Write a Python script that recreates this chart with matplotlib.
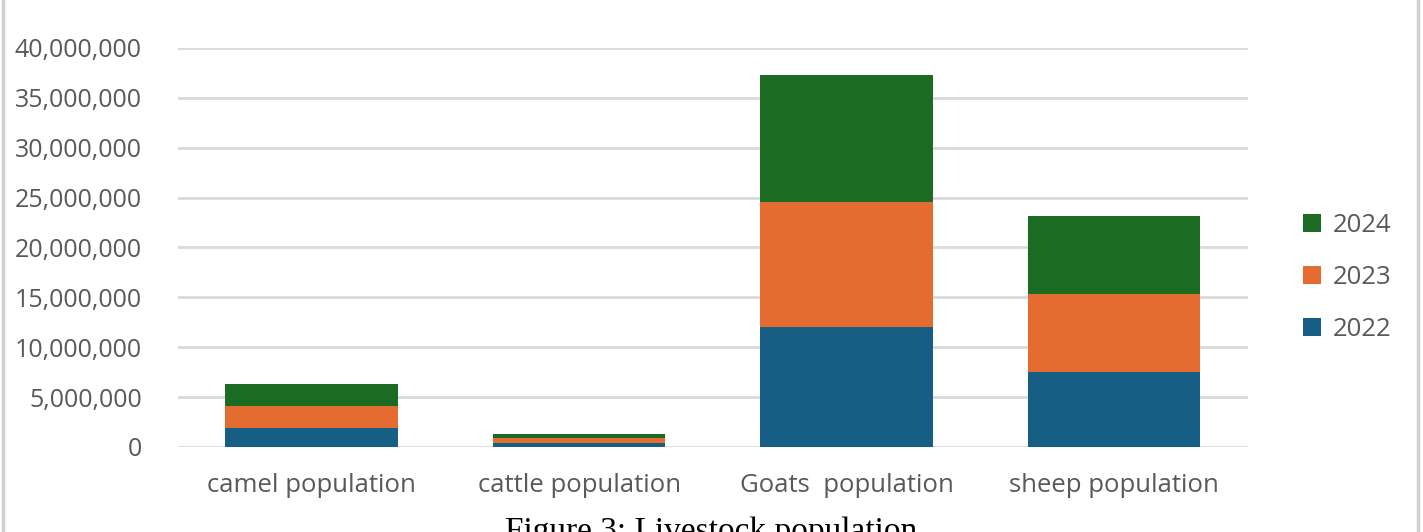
import numpy as np
import matplotlib.pyplot as plt
from matplotlib.lines import Line2D
from matplotlib.ticker import FuncFormatter

categories = ["camel population", "cattle population", "Goats  population", "sheep population"]
years = ["2022", "2023", "2024"]
pop_2022 = [1930000, 420000, 12000000, 7500000]
pop_2023 = [2170000, 500000, 12500000, 7800000]
pop_2024 = [2200000, 350000, 12800000, 7800000]
colors = ["#175e84", "#e46c31", "#1c6b22"]

plt.rcParams['font.family'] = ['Open Sans', 'DejaVu Sans']

fig = plt.figure(figsize=(14.23, 5.32), dpi=100)
ax = fig.add_axes([0.125, 0.16, 0.752, 0.75])

x = np.arange(len(categories))
bottom = np.zeros(len(categories))
bars = []
for vals, col, yr in zip([pop_2022, pop_2023, pop_2024], colors, years):
    b = ax.bar(x, vals, width=0.645, bottom=bottom, color=col, label=yr, zorder=3)
    bars.append(b)
    bottom += np.array(vals)

ax.set_xlim(-0.5, 3.5)
ax.set_ylim(0, 40000000)
ax.set_yticks(np.arange(0, 40000001, 5000000))
ax.yaxis.set_major_formatter(FuncFormatter(lambda v, p: f"{int(v):,}"))
ax.grid(axis='y', color='#d9d9d9', linewidth=2, zorder=0)
ax.set_xticks(x)
ax.set_xticklabels(categories, fontsize=18.5)
for s in ax.spines.values():
    s.set_visible(False)
ax.tick_params(axis='both', length=0, labelcolor='#595959')
ax.tick_params(axis='y', labelsize=18, pad=26)
ax.tick_params(axis='x', pad=19)

leg = ax.legend(handles=bars[::-1], labels=years[::-1], loc='center left',
                bbox_to_anchor=(1.03, 0.425), frameon=False, fontsize=18.5,
                labelspacing=1.05, handlelength=0.7, handleheight=0.7,
                handletextpad=0.45)
for t in leg.get_texts():
    t.set_color('#595959')

fig.add_artist(Line2D([0.002, 0.002], [0, 1], color='#d0d0d0', linewidth=2.5))
fig.add_artist(Line2D([0.9965, 0.9965], [0, 1], color='#d0d0d0', linewidth=2.5))

# caption sits at the lower edge, partly cut off as in the source
fig.text(0.5, 0.03, "Figure 3: Livestock population", ha='center', va='top',
         fontsize=24, family=['Liberation Serif', 'DejaVu Serif'], color='black')

fig.savefig("out.png", dpi=100)
